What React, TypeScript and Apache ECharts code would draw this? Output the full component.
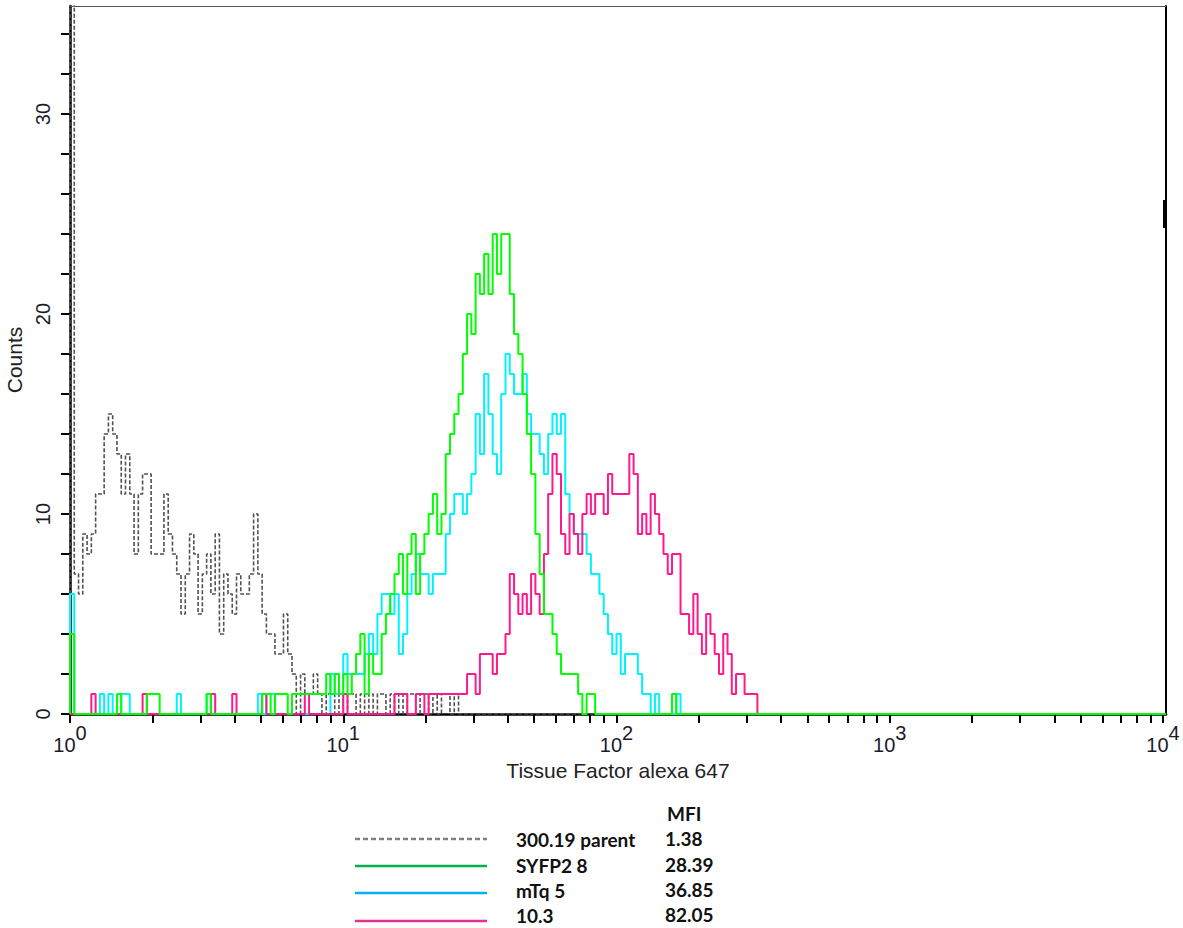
import React, { useEffect, useRef } from "react";
import * as echarts from "echarts";

// ---- data (256 log channels over 4 decades, 64 channels per decade) ----
const CHANNELS_PER_DECADE = 64;
const X_MIN = 1;
const X_MAX = 10256;
const Y_MAX = 35.4;
const DECADES = [1, 10, 100, 1000, 10000];
const Y_LABELS = [0, 10, 20, 30];
const Y_TICKS = [0, 2, 4, 6, 8, 10, 12, 14, 16, 18, 20, 22, 24, 26, 28, 30, 32, 34];

// counts per channel, starting at channel 0
const PARENT_COUNTS = [
  60, 7, 6, 9, 8, 9, 11, 11, 14, 15,
  14, 13, 11, 13, 11, 8, 11, 12, 12, 8,
  8, 8, 11, 9, 8, 7, 5, 7, 9, 8,
  5, 7, 8, 6, 9, 4, 7, 6, 5, 7,
  6, 6, 7, 10, 7, 5, 4, 4, 3, 3,
  5, 3, 2, 0, 2, 1, 1, 2, 1, 0,
  1, 1, 0, 1, 0, 1, 1, 0, 1, 0,
  1, 0, 1, 1, 0, 1, 0, 1, 0, 1,
  1, 0, 1, 1, 0, 1, 0, 1, 1, 0,
  1, 0,
];
const SYFP2_COUNTS = [
  4, 0, 0, 0, 0, 0, 0, 0, 0, 0,
  0, 1, 0, 0, 0, 0, 0, 0, 1, 1,
  1, 0, 0, 0, 0, 0, 0, 0, 0, 0,
  0, 0, 1, 0, 0, 0, 0, 0, 0, 0,
  0, 0, 0, 0, 0, 1, 1, 0, 1, 1,
  1, 0, 1, 1, 1, 1, 1, 1, 1, 1,
  2, 1, 2, 1, 2, 1, 2, 3, 4, 1,
  3, 2, 2, 4, 5, 6, 7, 8, 6, 8,
  9, 6, 8, 9, 10, 11, 9, 10, 13, 14,
  15, 16, 18, 20, 19, 22, 21, 23, 21, 24,
  22, 24, 24, 21, 19, 18, 16, 14, 12, 9,
  7, 5, 5, 4, 3, 2, 2, 2, 2, 1,
  0, 1, 1, 0, 0, 0, 0, 0, 0, 0,
  0, 0, 0, 0, 0, 0, 0, 0, 0, 0,
  0, 1,
];
const MTQ_COUNTS = [
  6, 0, 0, 0, 0, 0, 0, 1, 0, 1,
  0, 0, 1, 1, 0, 0, 0, 0, 0, 0,
  0, 0, 0, 0, 0, 1, 0, 0, 0, 0,
  0, 0, 1, 0, 0, 0, 0, 0, 0, 0,
  0, 0, 0, 0, 1, 0, 1, 1, 0, 0,
  0, 0, 0, 0, 0, 0, 0, 0, 0, 0,
  0, 2, 1, 1, 3, 2, 2, 2, 2, 3,
  4, 3, 5, 6, 6, 5, 6, 3, 4, 6,
  7, 8, 7, 7, 6, 7, 7, 7, 9, 10,
  11, 11, 10, 11, 12, 15, 13, 17, 15, 13,
  12, 16, 18, 17, 16, 16, 17, 15, 14, 14,
  13, 12, 14, 15, 14, 15, 11, 10, 9, 9,
  9, 8, 7, 7, 6, 5, 4, 3, 4, 2,
  3, 3, 3, 2, 1, 1, 0, 1, 0, 0,
  0, 0, 1,
];
const CLONE_10_3_COUNTS = [
  0, 0, 0, 0, 0, 1, 0, 0, 0, 0,
  0, 0, 0, 0, 0, 0, 0, 1, 0, 0,
  0, 0, 0, 0, 0, 0, 0, 0, 0, 0,
  0, 0, 0, 1, 0, 0, 0, 0, 1, 0,
  0, 0, 0, 0, 0, 1, 0, 0, 0, 0,
  0, 0, 0, 0, 0, 1, 0, 0, 0, 0,
  0, 0, 0, 0, 1, 0, 0, 0, 0, 0,
  0, 0, 0, 0, 0, 0, 1, 1, 1, 0,
  0, 1, 1, 0, 1, 1, 1, 1, 1, 1,
  1, 1, 1, 2, 2, 1, 3, 3, 3, 2,
  3, 3, 4, 7, 6, 5, 6, 5, 7, 6,
  5, 8, 11, 13, 12, 9, 8, 10, 9, 8,
  10, 11, 10, 11, 11, 10, 12, 11, 11, 11,
  11, 13, 12, 9, 10, 9, 11, 10, 9, 8,
  7, 8, 8, 5, 5, 4, 6, 4, 3, 5,
  4, 3, 2, 4, 3, 1, 2, 2, 1, 1,
  1,
];

const LEGEND_LABELS = ["300.19 parent", "SYFP2 8", "mTq 5", "10.3"];
const MFI_VALUES = ["1.38", "28.39", "36.85", "82.05"];
const MFI_TITLE = "MFI";

// ---- styling ----
const PLOT_COLORS = ["#505050", "#00f2ff", "#ff1a8c", "#00ff00"];
const LEGEND_COLORS = ["#808080", "#00b050", "#00b0f0", "#e8318c"];
const AXIS_FONT = "'Liberation Sans', Arial, Helvetica, sans-serif";
const LEGEND_FONT = "Lato, 'Open Sans', sans-serif";

const GRID = { left: 70, right: 17, top: 6, bottom: 214 };
const W = 1183;
const H = 928;

const edge = (c: number) => Math.pow(10, c / CHANNELS_PER_DECADE);

function buildSteps(counts: number[]) {
  const pts: [number, number][] = counts.map((v, i) => [edge(i), v]);
  pts.unshift([X_MIN, 0]);
  pts.push([edge(counts.length), 0]);
  pts.push([X_MAX, 0]);
  return pts;
}

const X_TICKS: number[] = [];
DECADES.forEach((d, i) => {
  if (i === DECADES.length - 1) {
    X_TICKS.push(d);
  } else {
    for (let m = 1; m <= 9; m++) X_TICKS.push(d * m);
  }
});

export default function App() {
  const ref = useRef<HTMLDivElement>(null);

  useEffect(() => {
    if (!ref.current) return;
    const chart = echarts.init(ref.current, null, { renderer: "svg" });

    const series = [
      { name: LEGEND_LABELS[0], data: buildSteps(PARENT_COUNTS), color: PLOT_COLORS[0], dashed: true },
      { name: LEGEND_LABELS[2], data: buildSteps(MTQ_COUNTS), color: PLOT_COLORS[1], dashed: false },
      { name: LEGEND_LABELS[3], data: buildSteps(CLONE_10_3_COUNTS), color: PLOT_COLORS[2], dashed: false },
      { name: LEGEND_LABELS[1], data: buildSteps(SYFP2_COUNTS), color: PLOT_COLORS[3], dashed: false },
    ].map((s) => ({
      type: "line",
      name: s.name,
      data: s.data,
      step: "end",
      showSymbol: false,
      symbol: "none",
      clip: true,
      xAxisIndex: 0,
      yAxisIndex: 0,
      lineStyle: {
        color: s.color,
        width: s.dashed ? 1.6 : 2,
        type: s.dashed ? [4, 2] : "solid",
      },
      itemStyle: { color: s.color },
      silent: true,
    }));

    const legendX1 = 355;
    const legendX2 = 487;
    const lineYs = [839, 866, 893, 921];
    const textYs = [839, 865, 890, 915];
    const graphic: any[] = [];
    LEGEND_LABELS.forEach((lab, i) => {
      graphic.push({
        type: "line",
        shape: { x1: legendX1, y1: lineYs[i], x2: legendX2, y2: lineYs[i] },
        style: {
          stroke: LEGEND_COLORS[i],
          lineWidth: 2.5,
          lineDash: i === 0 ? [5, 3] : null,
        },
      });
      graphic.push({
        type: "text",
        x: 516,
        y: textYs[i],
        style: {
          text: lab,
          font: `bold 19px ${LEGEND_FONT}`,
          fill: "#111",
          textVerticalAlign: "middle",
        },
      });
      graphic.push({
        type: "text",
        x: 665,
        y: textYs[i] - 1,
        style: {
          text: MFI_VALUES[i],
          font: `bold 19px ${LEGEND_FONT}`,
          fill: "#111",
          textVerticalAlign: "middle",
        },
      });
    });
    graphic.push({
      type: "text",
      x: 667,
      y: 813,
      style: {
        text: MFI_TITLE,
        font: `bold 19px ${LEGEND_FONT}`,
        fill: "#111",
        textVerticalAlign: "middle",
      },
    });
    // small marker on the right frame
    graphic.push({
      type: "rect",
      shape: { x: W - GRID.right - 3, y: 200, width: 3, height: 28 },
      style: { fill: "#000" },
    });

    chart.setOption({
      animation: false,
      backgroundColor: "#ffffff",
      grid: { ...GRID, containLabel: false, outerBoundsMode: "none" },
      xAxis: [
        {
          type: "log",
          logBase: 10,
          min: X_MIN,
          max: X_MAX,
          position: "bottom",
          name: "Tissue Factor alexa 647",
          nameLocation: "middle",
          nameGap: 42,
          nameTextStyle: { fontFamily: AXIS_FONT, fontSize: 21, color: "#222" },
          axisLine: { show: true, onZero: false, lineStyle: { color: "#000", width: 2.5 } },
          axisTick: {
            show: true,
            customValues: X_TICKS,
            length: 9,
            lineStyle: { color: "#000", width: 2 },
          },
          minorTick: { show: false },
          splitLine: { show: false },
          axisLabel: {
            show: true,
            customValues: DECADES,
            margin: 9,
            formatter: (v: number) => `{b|10}{s|${Math.round(Math.log10(v))}}`,
            rich: {
              b: { fontFamily: AXIS_FONT, fontSize: 20, color: "#1a1a2a", lineHeight: 32, verticalAlign: "bottom" },
              s: { fontFamily: AXIS_FONT, fontSize: 20, color: "#1a1a2a", lineHeight: 20, verticalAlign: "top" },
            },
          },
        },
        {
          type: "log",
          logBase: 10,
          min: X_MIN,
          max: X_MAX,
          position: "top",
          axisLine: { show: true, onZero: false, lineStyle: { color: "#555", width: 1 } },
          axisTick: { show: false },
          axisLabel: { show: false },
          splitLine: { show: false },
        },
      ],
      yAxis: [
        {
          type: "value",
          min: 0,
          max: Y_MAX,
          interval: 10,
          position: "left",
          name: "Counts",
          nameLocation: "middle",
          nameGap: 39,
          nameRotate: 90,
          nameTextStyle: { fontFamily: AXIS_FONT, fontSize: 21, color: "#222" },
          axisLine: { show: true, onZero: false, lineStyle: { color: "#000", width: 2.5 } },
          axisTick: {
            show: true,
            customValues: Y_TICKS,
            length: 9,
            lineStyle: { color: "#000", width: 2 },
          },
          splitLine: { show: false },
          axisLabel: {
            show: true,
            customValues: Y_LABELS,
            rotate: 90,
            margin: 17,
            fontFamily: AXIS_FONT,
            fontSize: 20,
            color: "#1a1a2a",
          },
        },
        {
          type: "value",
          min: 0,
          max: Y_MAX,
          position: "right",
          axisLine: { show: true, onZero: false, lineStyle: { color: "#000", width: 2 } },
          axisTick: { show: false },
          axisLabel: { show: false },
          splitLine: { show: false },
        },
      ],
      series,
      graphic,
    });

    return () => chart.dispose();
  }, []);

  return (
    <div
      ref={ref}
      style={{ position: "fixed", left: 0, top: 0, width: W, height: H, background: "#fff" }}
    />
  );
}
